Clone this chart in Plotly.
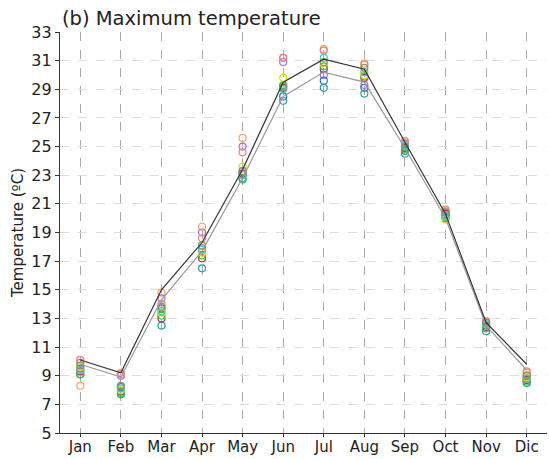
import plotly.graph_objects as go

months = ["Jan", "Feb", "Mar", "Apr", "May", "Jun", "Jul", "Aug", "Sep", "Oct", "Nov", "Dic"]

obs_black = [10.1, 9.2, 15.0, 18.3, 23.4, 29.5, 31.1, 30.4, 25.3, 20.3, 12.7, 9.8]
obs_gray = [9.8, 8.9, 14.3, 17.7, 22.8, 28.5, 30.2, 29.5, 24.9, 20.0, 12.5, 9.4]

models = {
    "orange": [8.3, 9.2, 14.8, 19.4, 25.6, 31.2, 31.8, 30.7, 25.4, 20.5, 12.8, 9.2],
    "purple": [9.9, 9.0, 14.4, 19.0, 25.0, 30.9, 30.0, 29.3, 25.2, 20.4, 12.7, 9.0],
    "pink": [10.1, 9.1, 14.0, 18.6, 24.6, 31.2, 31.7, 30.8, 25.3, 20.6, 12.8, 9.3],
    "blue": [9.5, 8.2, 13.7, 17.9, 23.2, 28.5, 29.6, 29.1, 24.7, 20.2, 12.5, 8.8],
    "teal": [9.1, 7.7, 12.5, 16.5, 22.7, 28.2, 29.1, 28.7, 24.5, 20.0, 12.1, 8.5],
    "red": [9.3, 7.9, 13.0, 17.2, 23.1, 29.1, 30.4, 29.8, 24.9, 20.3, 12.4, 8.7],
    "green": [9.1, 7.8, 13.2, 17.4, 22.8, 29.3, 30.6, 29.9, 24.8, 20.1, 12.3, 8.6],
    "yellow": [9.6, 8.0, 13.4, 17.6, 23.6, 29.8, 30.8, 30.0, 25.0, 19.9, 12.6, 8.9],
    "cyan": [9.4, 8.1, 13.5, 17.8, 23.0, 29.0, 31.2, 30.2, 25.1, 20.2, 12.6, 8.8],
    "olive": [9.7, 8.3, 13.8, 18.1, 23.3, 29.2, 30.9, 30.5, 25.0, 20.4, 12.7, 9.0],
}
model_colors = {
    "orange": "#F4A460", "purple": "#A070E0", "pink": "#F08080", "blue": "#4169E1",
    "teal": "#20A0A0", "red": "#C02050", "green": "#30C030", "yellow": "#E0E000",
    "cyan": "#40C8D8", "olive": "#909060",
}

yticks = list(range(5, 34, 2))

fig = go.Figure()
for name, vals in models.items():
    fig.add_trace(go.Scatter(
        x=months, y=vals, mode="markers", name=name,
        marker=dict(symbol="circle-open", size=7, color=model_colors[name], line=dict(width=1.2)),
    ))
fig.add_trace(go.Scatter(x=months, y=obs_gray, mode="lines", line=dict(color="#999999", width=1.2), name="gray"))
fig.add_trace(go.Scatter(x=months, y=obs_black, mode="lines", line=dict(color="#333333", width=1.2), name="black"))

fig.update_layout(
    width=549, height=459,
    margin=dict(l=60, r=2, t=32, b=26),
    paper_bgcolor="white", plot_bgcolor="white",
    showlegend=False,
    font=dict(family="DejaVu Sans", color="#222222"),
    xaxis=dict(
        range=[-0.5, 11.5], showgrid=True, gridcolor="#AAAAAA", griddash="dash", gridwidth=1,
        showline=True, linecolor="#333333", linewidth=1.2, ticks="outside", ticklen=3,
        tickcolor="#333333", tickfont=dict(size=15), zeroline=False, automargin=False,
        ticklabelstandoff=-3,
    ),
    yaxis=dict(
        range=[5, 33], tickvals=yticks, showgrid=True, gridcolor="#DDDDDD", griddash="dash",
        gridwidth=1, showline=True, linecolor="#333333", linewidth=1.2, ticks="outside",
        ticklen=4, tickcolor="#333333", tickfont=dict(size=16), zeroline=False, automargin=False,
        title=dict(text="Temperature (ºC)", font=dict(size=15), standoff=4),
    ),
    annotations=[dict(
        text="(b) Maximum temperature", x=0.0, y=1.0, xref="paper", yref="paper",
        xanchor="left", yanchor="bottom", showarrow=False, font=dict(size=19.5, color="#222222"),
    )],
)

fig.write_html("out.html")
